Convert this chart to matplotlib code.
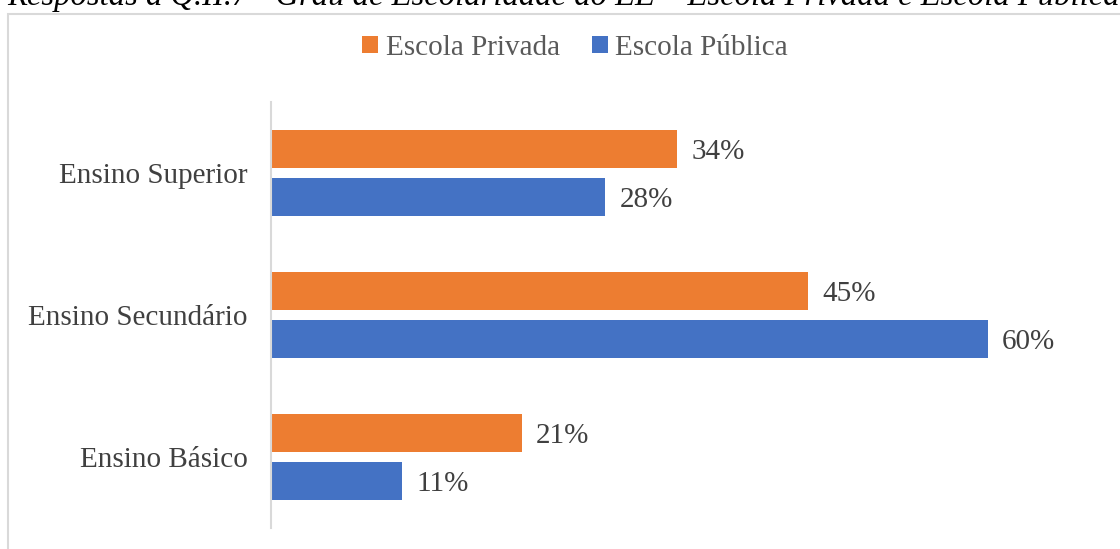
import matplotlib.pyplot as plt
import numpy as np
from matplotlib.patches import Rectangle

# data
categories = ["Ensino Básico", "Ensino Secundário", "Ensino Superior"]
privada = [21, 45, 34]
publica = [11, 60, 28]
series_names = ["Escola Privada", "Escola Pública"]
colors = ["#ED7D31", "#4472C4"]
title = "Respostas à Q.II.7 - Grau de Escolaridade do EE – Escola Privada e Escola Pública"

plt.rcParams['font.family'] = ['Liberation Serif', 'DejaVu Serif']

fig = plt.figure(figsize=(11.2, 5.49), dpi=100)
ax = fig.add_axes([271 / 1120, 1 - 528 / 549, (1107 - 271) / 1120, 426 / 549])

# chart frame (partly off the canvas)
fig.patches.append(Rectangle((8 / 1120, -0.05), 1.2, 1.05 - 14 / 549,
                             transform=fig.transFigure, fill=False,
                             edgecolor="#D9D9D9", linewidth=1.5))
fig.text(0.503, 1 - 5 / 549, title, ha="center", va="baseline",
         fontsize=23.5, style="italic", color="black")

y = np.arange(len(categories))
h = 0.27
off = 0.168
b1 = ax.barh(y + off, privada, height=h, color=colors[0], label=series_names[0])
b2 = ax.barh(y - off, publica, height=h, color=colors[1], label=series_names[1])

for bars, vals in [(b1, privada), (b2, publica)]:
    for bar, v in zip(bars, vals):
        ax.text(bar.get_width() + 1.2, bar.get_y() + bar.get_height() / 2 - 0.02,
                f"{v}%", va="center", ha="left", fontsize=21, color="#404040")

ax.set_xlim(0, 70)
ax.set_ylim(-0.5, 2.5)
ax.set_yticks(y)
ax.set_yticklabels(categories, fontsize=21, color="#404040")
ax.set_xticks([])
ax.tick_params(axis="y", length=0, pad=17)
for s in ["top", "right", "bottom"]:
    ax.spines[s].set_visible(False)
ax.spines["left"].set_color("#D9D9D9")
ax.spines["left"].set_linewidth(1.5)

leg = fig.legend(handles=[b1, b2], loc="center", bbox_to_anchor=(575 / 1120, 1 - 48 / 549),
                 ncol=2, frameon=False, fontsize=21, handlelength=0.55, handleheight=0.55,
                 handletextpad=0.25, columnspacing=1.1)
for t in leg.get_texts():
    t.set_color("#595959")

fig.savefig("out.png", dpi=100)
